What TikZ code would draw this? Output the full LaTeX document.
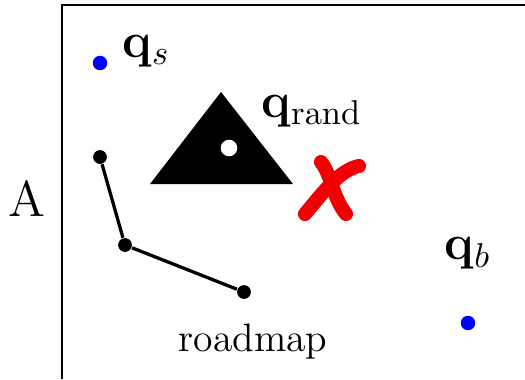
\documentclass[tikz,border=0pt]{standalone}
\usepackage{amsmath,amssymb}
\usepackage{tikz}
\usetikzlibrary{positioning}

\begin{document}
\begin{tikzpicture}[
  x=0.29pt, y=-0.29pt,
  every node/.style={inner sep=0pt},
  confPoint/.style={circle, fill=blue, minimum size=4.2pt},
  mapVertex/.style={circle, fill=black, minimum size=4pt},
  mapEdge/.style={line width=0.95pt},
  bigLabel/.style={font=\fontsize{14.6}{17}\selectfont},
  frameLine/.style={line width=0.6pt},
  failMark/.style={red!94!black, line width=4.1pt, line cap=round}
]
\useasboundingbox (0,0) rectangle (525,379);

% workspace frame (cut off at right and bottom)
\draw[frameLine] (62,379) -- (62,5) -- (525,5);
\node[bigLabel] (lblA) at (27,199) {A};

% start and goal configurations
\node[confPoint] (qs) at (100,63) {};
\node[bigLabel, anchor=west] (qsLabel) at (122,51) {$\mathbf{q}_s$};
\node[confPoint] (qb) at (468,323) {};
\node[bigLabel, above=13pt of qb] (qbLabel) {$\mathbf{q}_b$};

% obstacle with random sample inside
\fill (150,184) -- (293,184) -- (221,92) -- cycle;
\node[circle, fill=white, minimum size=4.8pt] (qrand) at (229,148) {};
\node[bigLabel, anchor=west] (qrandLabel) at (261,111)
  {$\mathbf{q}_{\mathrm{rand}}$};

% rejected sample
\draw[failMark] (305,214) .. controls (325,190) and (340,170) .. (359,166);
\draw[failMark] (321,162) .. controls (332,176) and (332,196) .. (346,214);

% roadmap
\node[mapVertex] (v1) at (100,157) {};
\node[mapVertex] (v2) at (125,245) {};
\node[mapVertex] (v3) at (244,292) {};
\draw[mapEdge] (v1) -- (v2) -- (v3);
\node[font=\fontsize{11.5}{14}\selectfont] (mapLabel) at (253,342) {roadmap};
\end{tikzpicture}
\end{document}
